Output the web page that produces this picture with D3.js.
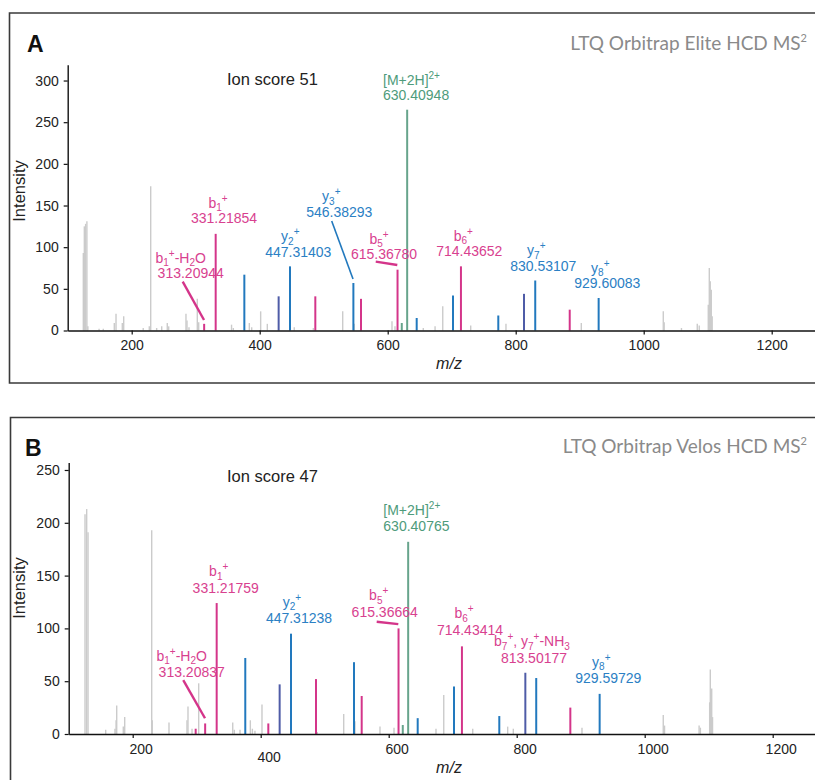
<!DOCTYPE html>
<html>
<head>
<meta charset="utf-8">
<script src="https://cdn.jsdelivr.net/npm/d3@7"></script>
<style>
  body { margin: 0; background: #fff; }
  text { font-family: "Liberation Sans", Arial, sans-serif; }
</style>
</head>
<body>
<svg id="chart" width="815" height="780"></svg>
<script>
// ---- panel A : LTQ Orbitrap Elite ----
var noiseA = [
  [124.4, 93], [126, 125], [128, 128], [130, 131], [131.5, 5],
  [149, 2], [155.6, 2], [172.8, 9], [175.5, 20], [185.3, 9], [187.5, 17],
  [218, 3], [227.5, 5], [229.7, 173], [239, 3], [246.9, 5], [255.6, 9], [257.8, 5],
  [284.8, 20], [286.4, 12], [289.5, 4], [302.5, 38], [304.7, 10],
  [356, 7], [358.8, 3], [383.8, 9], [387.5, 4], [401.5, 23], [411.9, 8], [454, 4], [483.8, 3],
  [529.7, 23], [547.8, 8], [606.7, 11], [611.4, 5], [655.6, 3], [674, 5], [686, 29],
  [729.7, 6], [784.8, 8], [902.5, 9],
  [1030.6, 23], [1032, 10], [1059, 3], [1083.7, 8], [1086.8, 6],
  [1100.9, 31], [1102.5, 75], [1104, 59], [1105.6, 49], [1107, 17]
];
var bIonsA = [[313.21, 8], [331.22, 116], [486.9, 41], [558.3, 38], [615.37, 73], [714.44, 77], [884.4, 25]];
var yIonsA = [[376, 67], [447.31, 77], [546.38, 57], [645.3, 15], [702, 42], [772.8, 18], [830.53, 60], [929.6, 39]];
var mixedA = [[429.6, 41], [813, 44]];
var precursorA = [[622, 9], [630.41, 265]];

// ---- panel B : LTQ Orbitrap Velos ----
var noiseB = [
  [125.5, 208], [128.1, 213], [130.2, 191], [157.8, 4], [172.3, 5], [174, 13], [175, 27], [185.3, 7], [187.5, 16],
  [229.7, 193], [230.6, 13], [256.7, 11], [284.8, 13], [286.4, 26], [292.7, 5], [303.1, 48],
  [356.3, 11], [358.8, 4], [367.7, 4], [383.8, 13], [387, 5], [391, 3], [402, 28], [488.4, 2],
  [529.7, 19], [547.3, 12], [586.4, 7], [608.3, 6], [673.9, 5], [686, 37], [731.3, 5], [785.9, 7], [794.7, 5], [902, 6],
  [1029, 18], [1031, 8], [1085, 8], [1087, 6], [1101.5, 30], [1102.5, 61], [1104.7, 43], [1106, 16]
];
var bIonsB = [[298.4, 5], [313.21, 10], [331.22, 124], [411.9, 10], [486.4, 52], [557.8, 36], [615.37, 100], [714.43, 83], [883.8, 25]];
var yIonsB = [[375.9, 72], [447.31, 95], [545.8, 68], [645.3, 15], [702, 45], [772.8, 17], [830.5, 53], [929.6, 38]];
var mixedB = [[429.6, 47], [813.5, 58]];
var precursorB = [[622, 8.5], [630.41, 182]];

var xTicks = [200, 400, 600, 800, 1000, 1200];
var yTicksA = [0, 50, 100, 150, 200, 250, 300];
var yTicksB = [0, 50, 100, 150, 200, 250];

// ion names as [text, 'sub'|'sup'|''] pieces
var B1H2O = [['b'], ['1', 'sub'], ['+', 'sup'], ['-H'], ['2', 'sub'], ['O']];
var ion = function (c, n) { return [[c], [n, 'sub'], ['+', 'sup']]; };
var B7Y7 = [['b'], ['7', 'sub'], ['+', 'sup'], [', y'], ['7', 'sub'], ['+', 'sup'], ['-NH'], ['3', 'sub']];
var PREC = [['[M+2H]'], ['2+', 'sup']];

// label anchors in data units (value line centre, value line baseline)
var annotA = [
  { name: B1H2O, value: '313.20944', kind: 'b', lx: 292.2, ly: 63, ndx: -10, lead: [[279.7, 58.6], [313, 12.6]] },
  { name: ion('b', '1'), value: '331.21854', kind: 'b', lx: 344.2, ly: 129, ndx: -6 },
  { name: ion('y', '2'), value: '447.31403', kind: 'y', lx: 460.3, ly: 88.6, ndx: -8 },
  { name: ion('y', '3'), value: '546.38293', kind: 'y', lx: 524.4, ly: 136.6, ndx: -8, lead: [[512.5, 131.4], [545.8, 61.8]] },
  { name: ion('b', '5'), value: '615.36780', kind: 'b', lx: 594.2, ly: 85.8, ndx: -5, lead: [[581.3, 82.6], [615, 78.6]] },
  { name: ion('b', '6'), value: '714.43652', kind: 'b', lx: 727.5, ly: 89.4, ndx: -6 },
  { name: ion('y', '7'), value: '830.53107', kind: 'y', lx: 843.1, ly: 71.8, ndx: -7 },
  { name: ion('y', '8'), value: '929.60083', kind: 'y', lx: 943.1, ly: 50.6, ndx: -7 },
  { name: PREC, value: '630.40948', kind: 'p', lx: 592.7, ly: 276.6, ndx: 0, start: true }
];
var annotB = [
  { name: B1H2O, value: '313.20837', kind: 'b', lx: 292.2, ly: 53.7, ndx: -10, lead: [[279, 51.1], [312.97, 14.9]] },
  { name: ion('b', '1'), value: '331.21759', kind: 'b', lx: 345.3, ly: 133.8, ndx: -7 },
  { name: ion('y', '2'), value: '447.31238', kind: 'y', lx: 459.8, ly: 104.8, ndx: -7 },
  { name: ion('b', '5'), value: '615.36664', kind: 'b', lx: 593.75, ly: 111, ndx: -6, lead: [[581.25, 106.3], [615, 104]] },
  { name: ion('b', '6'), value: '714.43414', kind: 'b', lx: 727, ly: 93.75, ndx: -6 },
  { name: B7Y7, value: '813.50177', kind: 'b', lx: 827, ly: 67.5, ndx: -2 },
  { name: ion('y', '8'), value: '929.59729', kind: 'y', lx: 943.1, ly: 48, ndx: -7 },
  { name: PREC, value: '630.40765', kind: 'p', lx: 591.6, ly: 192.2, ndx: 0, start: true }
];

var lineColor = { n: '#cbcbcb', b: '#d4358a', y: '#2279be', m: '#4f5ca7', p: '#67a48c' };
var textColor = { b: '#d8418f', y: '#2b80c4', p: '#4e9b7b' };

var svg = d3.select('#chart');

var writeName = function (sel, parts) {
  var prev = 0;
  parts.forEach(function (p) {
    var shift = p[1] === 'sub' ? 3.5 : (p[1] === 'sup' ? -6 : 0);
    sel.append('tspan')
      .attr('dy', shift - prev)
      .style('font-size', p[1] ? '10px' : null)
      .text(p[0]);
    prev = shift;
  });
};

var drawPanel = function (cfg) {
  var g = svg.append('g');

  // frame (open on the right, as in the figure)
  g.append('path')
    .attr('d', cfg.frame)
    .attr('fill', 'none')
    .attr('stroke', '#3a3a3a')
    .attr('stroke-width', 1.6);

  var x = d3.scaleLinear().domain([100, 1270]).range(cfg.xRange);
  var y = d3.scaleLinear().domain(cfg.yDomain).range(cfg.yRange);

  // peaks
  var groups = [['n', cfg.noise, 1.4], ['m', cfg.mixed, 2], ['y', cfg.yIons, 2], ['b', cfg.bIons, 2], ['p', cfg.precursor, 2]];
  groups.forEach(function (grp) {
    g.append('g').selectAll('line')
      .data(grp[1])
      .join('line')
      .attr('x1', function (d) { return x(d[0]); })
      .attr('x2', function (d) { return x(d[0]); })
      .attr('y1', y(0))
      .attr('y2', function (d) { return y(d[1]); })
      .attr('stroke', lineColor[grp[0]])
      .attr('stroke-width', grp[2]);
  });

  // axes
  var xAxis = g.append('g')
    .attr('transform', 'translate(0,' + y(0) + ')')
    .call(d3.axisBottom(x).tickValues(xTicks).tickFormat(d3.format('d'))
      .tickSize(4).tickSizeOuter(0).tickPadding(6));
  var yAxis = g.append('g')
    .attr('transform', 'translate(' + cfg.xRange[0] + ',0)')
    .call(d3.axisLeft(y).tickValues(cfg.yTicks).tickFormat(d3.format('d'))
      .tickSize(4).tickSizeOuter(0).tickPadding(5));
  [xAxis, yAxis].forEach(function (a) {
    a.select('.domain').attr('stroke', '#111').attr('stroke-width', 1.4);
    a.selectAll('.tick line').attr('stroke', '#111').attr('stroke-width', 1.2);
    a.selectAll('.tick text')
      .attr('fill', '#222')
      .style('font-size', '14px')
      .style('font-family', '"Liberation Sans", Arial, sans-serif');
  });
  xAxis.selectAll('.tick text')
    .attr('dx', cfg.xLabelDx)
    .attr('dy', function (d) { return (0.71 + (d === 400 ? cfg.x400Dy : 0)) + 'em'; });

  // leader lines
  g.append('g').selectAll('line')
    .data(cfg.annot.filter(function (a) { return a.lead; }))
    .join('line')
    .attr('x1', function (a) { return x(a.lead[0][0]); })
    .attr('y1', function (a) { return y(a.lead[0][1]); })
    .attr('x2', function (a) { return x(a.lead[1][0]); })
    .attr('y2', function (a) { return y(a.lead[1][1]); })
    .attr('stroke', function (a) { return lineColor[a.kind]; })
    .attr('stroke-width', function (a) { return a.kind === 'b' ? 2.4 : 1.6; });

  // peak labels
  var lab = g.append('g').selectAll('g')
    .data(cfg.annot)
    .join('g')
    .attr('fill', function (a) { return textColor[a.kind]; })
    .style('font-size', '14px');
  lab.append('text')
    .attr('x', function (a) { return x(a.lx) + a.ndx; })
    .attr('y', function (a) { return y(a.ly) - cfg.lineGap; })
    .attr('text-anchor', function (a) { return a.start ? 'start' : 'middle'; })
    .each(function (a) { writeName(d3.select(this), a.name); });
  lab.append('text')
    .attr('x', function (a) { return x(a.lx); })
    .attr('y', function (a) { return y(a.ly); })
    .attr('text-anchor', function (a) { return a.start ? 'start' : 'middle'; })
    .text(function (a) { return a.value; });

  // texts
  g.append('text')
    .attr('x', cfg.letter[0]).attr('y', cfg.letter[1])
    .style('font-size', '23px').style('font-weight', 'bold').attr('fill', '#111')
    .text(cfg.letter[2]);
  var t = g.append('text')
    .attr('x', 807).attr('y', cfg.titleY)
    .attr('text-anchor', 'end')
    .attr('fill', '#8a8a8a')
    .style('font-family', 'Lato, "Open Sans", sans-serif')
    .style('font-size', '19px')
    .text(cfg.title);
  t.append('tspan').attr('dy', -8).style('font-size', '11px').text('2');
  g.append('text')
    .attr('x', 227).attr('y', cfg.scoreY)
    .attr('fill', '#222')
    .style('font-size', '16.5px')
    .text(cfg.score);
  g.append('text')
    .attr('transform', 'translate(25,' + cfg.intensityY + ') rotate(-90)')
    .attr('text-anchor', 'middle')
    .attr('fill', '#222')
    .style('font-size', '16.5px')
    .text('Intensity');
  g.append('text')
    .attr('x', 449).attr('y', cfg.mzY)
    .attr('text-anchor', 'middle')
    .attr('fill', '#222')
    .style('font-size', '16px').style('font-style', 'italic')
    .text('m/z');
};

drawPanel({
  frame: 'M816,13 H9.5 V383 H816',
  xRange: [67.7, 816.5], yDomain: [0, 319], yRange: [330.5, 64.7],
  noise: noiseA, bIons: bIonsA, yIons: yIonsA, mixed: mixedA, precursor: precursorA,
  annot: annotA, yTicks: yTicksA, lineGap: 15.5, xLabelDx: 0, x400Dy: 0,
  letter: [27, 51.5, 'A'], title: 'LTQ Orbitrap Elite HCD MS', titleY: 50,
  score: 'Ion score 51', scoreY: 85, intensityY: 191, mzY: 369
});
drawPanel({
  frame: 'M816,417.5 H10.5 V781',
  xRange: [68.7, 817.5], yDomain: [0, 257], yRange: [734, 462.6],
  noise: noiseB, bIons: bIonsB, yIons: yIonsB, mixed: mixedB, precursor: precursorB,
  annot: annotB, yTicks: yTicksB, lineGap: 16.5, xLabelDx: 8, x400Dy: 0.55,
  letter: [25, 456, 'B'], title: 'LTQ Orbitrap Velos HCD MS', titleY: 453,
  score: 'Ion score 47', scoreY: 482, intensityY: 588, mzY: 773
});
</script>
</body>
</html>
